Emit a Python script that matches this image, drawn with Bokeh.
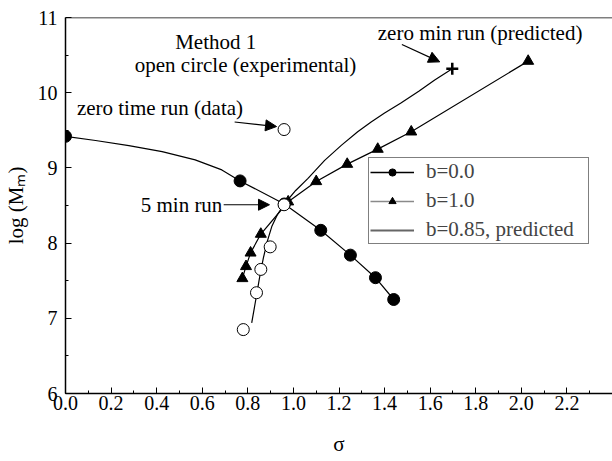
from bokeh.plotting import figure
from bokeh.models import (Legend, LegendItem, Arrow, NormalHead, Label, FixedTicker,
                          ColumnDataSource, Range1d, NumeralTickFormatter, Span)
from bokeh.embed import file_html
from bokeh.resources import INLINE

FONT = "Liberation Serif"

# b = 0.0 (filled circles)
b0_x = [0.0, 0.766, 0.96, 1.12, 1.25, 1.36, 1.44]
b0_y = [9.42, 8.827, 8.52, 8.17, 7.84, 7.54, 7.25]
# line of the b=0.0 series (curved first part)
b0_curve_x = [0.0, 0.132, 0.278, 0.424, 0.569, 0.686, 0.766, 0.96, 1.12, 1.25, 1.36, 1.44]
b0_curve_y = [9.42, 9.364, 9.297, 9.217, 9.107, 8.973, 8.827, 8.52, 8.17, 7.84, 7.54, 7.25]

# b = 1.0 (filled triangles)
b1_x = [0.776, 0.792, 0.812, 0.857, 0.977, 1.10, 1.236, 1.37, 1.517, 2.03]
b1_y = [7.53, 7.69, 7.87, 8.12, 8.55, 8.82, 9.05, 9.25, 9.48, 10.42]

# b = 0.85 predicted curve
pred_x = [0.817, 0.835, 0.852, 0.868, 0.885, 0.905, 0.93, 0.96, 1.01, 1.064, 1.137,
          1.21, 1.282, 1.341, 1.40, 1.47, 1.55, 1.62, 1.697]
pred_y = [6.94, 7.25, 7.55, 7.80, 8.02, 8.22, 8.38, 8.52, 8.70, 8.86, 9.10,
          9.30, 9.48, 9.61, 9.73, 9.86, 10.02, 10.17, 10.32]

# experimental open circles
exp_x = [0.78, 0.838, 0.857, 0.898, 0.959, 0.959]
exp_y = [6.85, 7.34, 7.65, 7.95, 8.51, 9.51]

# predicted zero-min run
zero_x = [1.697]
zero_y = [10.32]

x_ticks = [0.0, 0.2, 0.4, 0.6, 0.8, 1.0, 1.2, 1.4, 1.6, 1.8, 2.0, 2.2]
x_minor = [round(0.1 * i, 1) for i in range(0, 24)]
y_ticks = [6, 7, 8, 9, 10, 11]
y_minor = [6.5, 7.5, 8.5, 9.5, 10.5]

p = figure(width=612, height=461, output_backend="svg", toolbar_location=None,
           x_range=Range1d(0, 2.4), y_range=Range1d(6, 11),
           min_border_left=63, min_border_right=0, min_border_top=17, min_border_bottom=68)
p.outline_line_color = None
p.grid.visible = False
p.background_fill_color = "white"

for ax in (p.xaxis[0], p.yaxis[0]):
    ax.axis_line_color = "black"
    ax.axis_line_width = 1.5
    ax.major_tick_in = 6
    ax.major_tick_out = 0
    ax.minor_tick_in = 3
    ax.minor_tick_out = 0
    ax.major_label_text_font = FONT
    ax.major_label_text_font_size = "20px"
    ax.major_label_text_color = "black"
    ax.axis_label_text_font = FONT
    ax.axis_label_text_font_size = "21px"
    ax.axis_label_text_font_style = "normal"
    ax.axis_label_text_color = "black"

p.xaxis.ticker = FixedTicker(ticks=x_ticks, minor_ticks=x_minor)
p.xaxis.formatter = NumeralTickFormatter(format="0.0")
p.xaxis.major_label_standoff = 2
p.xaxis.axis_label = "σ"
p.xaxis.axis_label_standoff = 19

p.yaxis.ticker = FixedTicker(ticks=y_ticks, minor_ticks=y_minor)
p.yaxis.major_label_standoff = 8
p.yaxis.axis_label = "log (Mₘ)"
p.yaxis.axis_label_standoff = 7

p.add_layout(Span(location=11, dimension="width", line_color="black", line_width=1.5))

# lines
p.line(b0_curve_x, b0_curve_y, line_color="black", line_width=1.2)
p.line(b1_x, b1_y, line_color="black", line_width=1.2)
p.line(pred_x, pred_y, line_color="black", line_width=1.2)

# markers
p.scatter(b0_x, b0_y, marker="circle", size=12, fill_color="black", line_color="black")
p.scatter(b1_x, b1_y, marker="triangle", size=11, fill_color="black", line_color="black")
p.scatter(exp_x, exp_y, marker="circle", size=12, fill_color="white", line_color="black", line_width=1)
p.scatter(zero_x, zero_y, marker="cross", size=12, line_color="black", line_width=2.5)

# annotations
def lab(x, y, t, align="left"):
    p.add_layout(Label(x=x, y=y, text=t, text_font=FONT, text_font_size="21px",
                       text_align=align, text_baseline="middle", text_color="black"))

lab(0.659, 10.68, "Method 1", "center")
lab(0.79, 10.37, "open circle (experimental)", "center")
lab(0.05, 9.80, "zero time run (data)")
lab(0.33, 8.51, "5 min run")
lab(1.37, 10.80, "zero min run (predicted)")

def arrow(x0, y0, x1, y1):
    p.add_layout(Arrow(end=NormalHead(size=11, fill_color="black", line_color="black"),
                       x_start=x0, y_start=y0, x_end=x1, y_end=y1,
                       line_color="black", line_width=1.2))

arrow(0.742, 9.61, 0.926, 9.55)
arrow(0.694, 8.51, 0.895, 8.51)
arrow(1.476, 10.64, 1.642, 10.41)

# legend (hidden renderers that carry the sample styles)
nan = float("nan")
def hidden():
    return ColumnDataSource(dict(x=[nan], y=[nan]))

l0 = p.line(x="x", y="y", source=hidden(), line_color="black", line_width=1.5)
m0 = p.scatter(x="x", y="y", source=hidden(), marker="circle", size=11,
               fill_color="black", line_color="black")
l1 = p.line(x="x", y="y", source=hidden(), line_color="#8a8a8a", line_width=1.5)
m1 = p.scatter(x="x", y="y", source=hidden(), marker="triangle", size=9,
               fill_color="black", line_color="black")
l2 = p.line(x="x", y="y", source=hidden(), line_color="#666666", line_width=2)

legend = Legend(items=[LegendItem(label="b=0.0", renderers=[l0, m0]),
                       LegendItem(label="b=1.0", renderers=[l1, m1]),
                       LegendItem(label="b=0.85, predicted", renderers=[l2])],
                location=(303, 149), margin=0, padding=1, spacing=4,
                glyph_width=44, glyph_height=18, label_height=18, label_standoff=12,
                label_width=161,
                label_text_font=FONT, label_text_font_size="21px",
                border_line_color="black", border_line_width=1.2,
                background_fill_color="white", background_fill_alpha=1)
p.add_layout(legend, "center")

open("out.html", "w").write(file_html(p, INLINE))
